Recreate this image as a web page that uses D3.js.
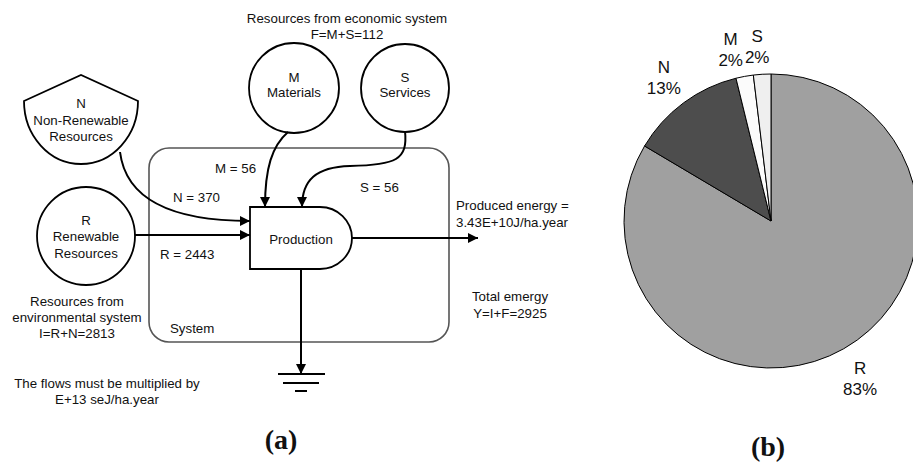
<!DOCTYPE html>
<html lang="en">
<head>
<meta charset="utf-8">
<title>Emergy diagram</title>
<script src="https://d3js.org/d3.v7.min.js"></script>
<style>
  body { margin: 0; background: #fff; }
  svg { display: block; }
  text { font-family: "Liberation Sans", Arial, sans-serif; fill: #111; }
</style>
</head>
<body>
<svg width="913" height="464"></svg>
<script>
// emergy flows (E+13 seJ/ha.year)
var categories = ["R", "N", "M", "S"];
var flows = [2443, 370, 56, 56];
var pctLabels = ["83%", "13%", "2%", "2%"];
var sliceColors = ["#a0a0a0", "#4d4d4d", "#fbfbfb", "#efefef"];

var svg = d3.select("svg");

svg.append("defs").append("marker")
    .attr("id", "arrow")
    .attr("viewBox", "0 0 10 10")
    .attr("refX", 10).attr("refY", 5)
    .attr("markerUnits", "userSpaceOnUse")
    .attr("markerWidth", 11).attr("markerHeight", 10)
    .attr("orient", "auto")
  .append("path")
    .attr("d", "M0,0 L10,5 L0,10 Z")
    .attr("fill", "#000");

// ---------- (a) diagram ----------
var a = svg.append("g");

a.append("rect")
    .attr("x", 149).attr("y", 148)
    .attr("width", 300).attr("height", 194)
    .attr("rx", 20)
    .attr("fill", "none").attr("stroke", "#555").attr("stroke-width", 1.6);

var shapeStyle = function(sel) {
  sel.attr("fill", "none").attr("stroke", "#000").attr("stroke-width", 1.8);
};

a.append("circle").attr("cx", 294).attr("cy", 88).attr("r", 45).call(shapeStyle);
a.append("circle").attr("cx", 405).attr("cy", 88).attr("r", 44).call(shapeStyle);
a.append("circle").attr("cx", 86).attr("cy", 236).attr("r", 49).call(shapeStyle);
// non-renewable source shape
a.append("path").attr("d", "M24,101 L81,75 L138,101 A57,63 0 0 1 24,101 Z").call(shapeStyle);
// production box
a.append("path").attr("d", "M250,207 L320,207 A32,31 0 0 1 320,269 L250,269 Z").call(shapeStyle);

var arrows = [
  "M120,152 C126,200 172,221 250,221",
  "M135,235 L250,235",
  "M288,132 C272,146 265,168 265,207",
  "M405,131 C408,160 396,165 350,166 C316,167 302,180 302,207",
  "M352,238 L478,238",
  "M301,269 L301,374"
];
a.selectAll("path.flow")
  .data(arrows)
  .enter().append("path")
    .attr("class", "flow")
    .attr("d", function(d) { return d; })
    .attr("fill", "none").attr("stroke", "#000").attr("stroke-width", 2)
    .attr("marker-end", "url(#arrow)");

// ground symbol
[[278, 325, 374], [283, 319, 383], [295, 307, 391]].forEach(function(g) {
  a.append("line").attr("x1", g[0]).attr("x2", g[1]).attr("y1", g[2]).attr("y2", g[2])
    .attr("stroke", "#000").attr("stroke-width", 2);
});

var texts = [
  ["Resources from economic system", 347, 23, "middle"],
  ["F=M+S=" + (flows[2] + flows[3]), 347, 39, "middle"],
  ["M", 294, 82, "middle"], ["Materials", 294, 97, "middle"],
  ["S", 405, 82, "middle"], ["Services", 405, 97, "middle"],
  ["N", 81, 108, "middle"], ["Non-Renewable", 81, 125, "middle"], ["Resources", 81, 141, "middle"],
  ["R", 86, 225, "middle"], ["Renewable", 86, 241, "middle"], ["Resources", 86, 258, "middle"],
  ["M = " + flows[2], 215, 173, "start"],
  ["N = " + flows[1], 173, 202, "start"],
  ["S = " + flows[3], 360, 192, "start"],
  ["R = " + flows[0], 160, 259, "start"],
  ["Production", 301, 244, "middle"],
  ["System", 170, 333, "start"],
  ["Resources from", 77, 306, "middle"],
  ["environmental system", 77, 322, "middle"],
  ["I=R+N=" + (flows[0] + flows[1]), 77, 338, "middle"],
  ["The flows must be multiplied by", 107, 388, "middle"],
  ["E+13 seJ/ha.year", 107, 404, "middle"],
  ["Produced energy =", 456, 210, "start"],
  ["3.43E+10J/ha.year", 456, 227, "start"],
  ["Total emergy", 510, 301, "middle"],
  ["Y=I+F=" + d3.sum(flows), 510, 318, "middle"]
];
a.selectAll("text.lbl")
  .data(texts)
  .enter().append("text")
    .attr("class", "lbl")
    .attr("x", function(d) { return d[1]; })
    .attr("y", function(d) { return d[2]; })
    .attr("text-anchor", function(d) { return d[3]; })
    .style("font-size", "13.3px")
    .text(function(d) { return d[0]; });

// ---------- (b) pie ----------
var cx = 771, cy = 221, radius = 147;
var pie = d3.pie().sort(null).value(function(d) { return d; });
var arcs = pie(flows);
var arc = d3.arc().innerRadius(0).outerRadius(radius);
var labelArc = d3.arc().innerRadius(180).outerRadius(180);
// small nudges so the two thin-slice labels sit side by side
var labelShift = [[0, 2], [0, 2], [-8, 6], [-3, 6]];

var b = svg.append("g").attr("transform", "translate(" + cx + "," + cy + ")");
b.selectAll("path")
  .data(arcs)
  .enter().append("path")
    .attr("d", arc)
    .attr("fill", function(d, i) { return sliceColors[i]; })
    .attr("stroke", "#000").attr("stroke-width", 1);

var lab = b.selectAll("g.plab")
  .data(arcs)
  .enter().append("g")
    .attr("class", "plab")
    .attr("transform", function(d, i) {
      var c = labelArc.centroid(d);
      return "translate(" + (c[0] + labelShift[i][0]) + "," + (c[1] + labelShift[i][1]) + ")";
    });
lab.append("text")
    .attr("text-anchor", "middle").attr("y", -5)
    .style("font-size", "17px")
    .text(function(d, i) { return categories[i]; });
lab.append("text")
    .attr("text-anchor", "middle").attr("y", 16)
    .style("font-size", "17px")
    .text(function(d, i) { return pctLabels[i]; });

// panel captions
svg.append("text").attr("x", 281).attr("y", 449).attr("text-anchor", "middle")
    .style("font-family", "'Liberation Serif', 'Times New Roman', serif")
    .style("font-weight", "bold").style("font-size", "28px")
    .text("(a)");
svg.append("text").attr("x", 768).attr("y", 456).attr("text-anchor", "middle")
    .style("font-family", "'Liberation Serif', 'Times New Roman', serif")
    .style("font-weight", "bold").style("font-size", "28px")
    .text("(b)");
</script>
</body>
</html>
